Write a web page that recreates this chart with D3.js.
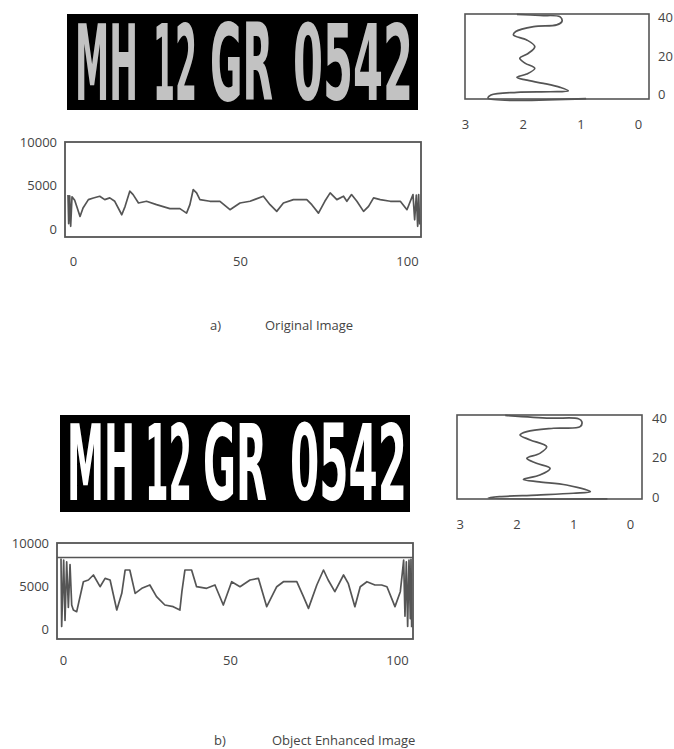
<!DOCTYPE html>
<html><head><meta charset="utf-8">
<script src="https://cdn.jsdelivr.net/npm/d3@7"></script>
<style>html,body{margin:0;padding:0;background:#fff;}svg{display:block;}</style>
</head><body>
<script>
// ---- data ----
const plateParts = ["MH", "12", "GR", "0542"];
const captions = [["a)", "Original Image"], ["b)", "Object Enhanced Image"]];
const colTicks = [0, 50, 100];
const valTicks = [0, 5000, 10000];
const rowTicks = [0, 20, 40];
const profTicks = [3, 2, 1, 0];

// a) original image - column profile
const origX = [-1.5,-1.3,-1.0,-0.7,-0.3,0.5,1.2,2.1,3.0,4.6,6.1,8.0,9.5,11.0,12.5,14.6,15.6,17.0,18.0,19.6,22.0,25.0,29.0,32.0,34.0,35.0,36.0,37.0,38.0,41.0,44.0,47.0,50.0,53.0,57.0,59.0,61.0,63.0,66.0,70.0,71.5,73.5,75.4,77.0,79.0,81.0,82.0,83.4,85.0,87.0,88.5,90.0,92.0,95.0,98.0,100.0,101.0,101.8,102.3,102.8,103.2,103.5,103.8];
const origVal = [3900,600,3800,300,3700,3300,2500,1430,2400,3370,3560,3760,3370,3570,3180,1630,2600,4340,3950,2980,3180,2790,2330,2330,1820,2790,4530,4150,3370,3180,3180,2210,2980,3180,3760,2790,2020,2980,3370,3370,2790,1820,3180,4150,3370,3760,3180,3950,3180,2020,2600,3570,3370,3180,3180,2210,3180,3950,1050,3900,300,3950,500];
// a) row profile
const origProfVal = [0.9,2.6,2.55,2.1,1.52,1.21,1.35,1.64,1.95,2.1,1.93,1.79,1.96,2.05,1.90,1.79,1.93,2.16,2.12,1.81,1.41,1.32,1.35,1.7,2.1];
const origProfRow = [-2.4,-2.2,-0.5,0.9,1.2,1.7,3.5,5.6,7.4,8.8,10.5,13.5,16.2,18.8,21.4,24.9,28.4,31.0,32.8,35.4,36.3,38.0,40.5,41.2,41.8];

// b) object enhanced image - column profile
const enhX = [-0.6,-0.4,0.2,0.6,1.1,1.6,2.1,2.6,3.1,4.1,6.1,7.6,9.1,11.1,12.6,14.1,16.1,17.6,18.6,20.0,21.6,23.6,26.0,28.0,30.5,33.0,35.0,35.6,36.5,38.5,40.0,43.0,45.5,48.0,50.5,53.0,56.0,58.5,61.0,64.0,66.0,70.0,72.0,73.5,76.0,78.0,79.4,81.4,84.0,85.4,87.4,89.0,91.0,93.4,95.4,97.0,99.4,101.0,101.6,102.0,102.4,102.8,103.2,103.6,104.0,104.2,104.4];
const enhVal = [8200,300,8000,1000,7800,2500,7500,2800,2210,2020,5500,5700,6280,4920,5890,5700,2210,4150,6860,6860,4150,4730,5120,3760,2790,2600,2210,4340,6860,6860,4920,4730,5120,2790,5500,4920,5700,5890,2600,4920,5500,5500,3760,2400,5120,6860,5700,4340,6280,5310,2600,4920,5500,5120,5120,4920,2600,4340,6500,8020,1500,7800,300,8000,1200,8100,200];
const enhRef = 8300;
// b) row profile
const enhProfVal = [0.4,2.5,2.3,1.64,1.0,0.70,1.12,1.6,1.88,1.59,1.41,1.65,1.82,1.59,1.47,1.76,1.94,1.82,1.35,0.88,0.85,0.91,1.41,2.2];
const enhProfRow = [-0.9,-0.5,0.2,1.0,1.9,2.7,6.1,7.7,8.9,11.1,14.5,17.1,19.6,22.1,25.5,28.9,31.4,33.1,34.8,35.6,38.1,39.6,39.9,41.3];

// ---- drawing ----
const W = 674, H = 749;
const svg = d3.select("body").append("svg").attr("width", W).attr("height", H);
const FONT = "'Open Sans', 'Liberation Sans', sans-serif";
const LINE = "#555";
const TICK_FS = 13;

function plate(cfg) {
  svg.append("rect").attr("x", cfg.x0).attr("y", cfg.y0)
    .attr("width", cfg.x1 - cfg.x0).attr("height", cfg.y1 - cfg.y0).attr("fill", "#000");
  plateParts.forEach((t, i) => {
    const [a, b] = cfg.spans[i];
    const g = svg.append("g");
    const txt = g.append("text").attr("x", 0).attr("y", 0)
      .attr("font-family", "'DejaVu Sans', sans-serif").attr("font-weight", "bold")
      .attr("font-size", 106).attr("fill", cfg.color).text(t);
    const bb = txt.node().getBBox();
    const sx = (b - a) / bb.width;
    g.attr("transform", `translate(${a - bb.x * sx},${cfg.base}) scale(${sx},1)`);
  });
}

function colChart(cfg) {
  const x = d3.scaleLinear().domain(cfg.xd).range([cfg.x0, cfg.x1]);
  const y = d3.scaleLinear().domain(cfg.yd).range([cfg.y1, cfg.y0]);
  const g = svg.append("g");
  g.append("rect").attr("x", cfg.x0).attr("y", cfg.y0).attr("width", cfg.x1 - cfg.x0)
    .attr("height", cfg.y1 - cfg.y0).attr("fill", "none").attr("stroke", "#555").attr("stroke-width", 1.8);
  if (cfg.ref != null) {
    g.append("line").attr("x1", cfg.x0).attr("x2", cfg.x1).attr("y1", y(cfg.ref)).attr("y2", y(cfg.ref))
      .attr("stroke", "#555").attr("stroke-width", 1.5);
  }
  const pts = cfg.xs.map((d, i) => [d, cfg.vs[i]]);
  g.append("path").datum(pts)
    .attr("d", d3.line().x(d => x(d[0])).y(d => y(d[1])))
    .attr("fill", "none").attr("stroke", LINE).attr("stroke-width", 1.7).attr("stroke-linejoin", "round");
  const ya = d3.axisLeft(y).tickValues(valTicks).tickSize(0).tickPadding(0).tickFormat(d3.format("d"));
  const ga = g.append("g").attr("transform", `translate(${cfg.yLabX},0)`).call(ya);
  ga.select(".domain").remove();
  ga.selectAll("text").attr("font-family", FONT).attr("font-size", TICK_FS).attr("fill", "#444");
  const xa = d3.axisBottom(x).tickValues(colTicks).tickSize(0).tickPadding(0).tickFormat(d3.format("d"));
  const gx = g.append("g").attr("transform", `translate(0,${cfg.xLabY})`).call(xa);
  gx.select(".domain").remove();
  gx.selectAll("text").attr("font-family", FONT).attr("font-size", TICK_FS).attr("fill", "#444");
}

function rowChart(cfg) {
  const x = d3.scaleLinear().domain(cfg.xd).range([cfg.x0, cfg.x1]);
  const y = d3.scaleLinear().domain(cfg.yd).range([cfg.y1, cfg.y0]);
  const g = svg.append("g");
  g.append("rect").attr("x", cfg.x0).attr("y", cfg.y0).attr("width", cfg.x1 - cfg.x0)
    .attr("height", cfg.y1 - cfg.y0).attr("fill", "none").attr("stroke", "#555").attr("stroke-width", 1.6);
  const pts = cfg.vs.map((d, i) => [d, cfg.rs[i]]);
  g.append("path").datum(pts)
    .attr("d", d3.line().x(d => x(d[0])).y(d => y(d[1])).curve(d3.curveCatmullRom))
    .attr("fill", "none").attr("stroke", LINE).attr("stroke-width", 1.7);
  const ya = d3.axisRight(y).tickValues(rowTicks).tickSize(0).tickPadding(0).tickFormat(d3.format("d"));
  const ga = g.append("g").attr("transform", `translate(${cfg.yLabX},0)`).call(ya);
  ga.select(".domain").remove();
  ga.selectAll("text").attr("font-family", FONT).attr("font-size", TICK_FS).attr("fill", "#444");
  const xa = d3.axisBottom(x).tickValues(profTicks).tickSize(0).tickPadding(0).tickFormat(d3.format("d"));
  const gx = g.append("g").attr("transform", `translate(0,${cfg.xLabY})`).call(xa);
  gx.select(".domain").remove();
  gx.selectAll("text").attr("font-family", FONT).attr("font-size", TICK_FS).attr("fill", "#444");
}

function caption(i, x1, x2, y) {
  svg.append("text").attr("x", x1).attr("y", y).attr("font-family", FONT).attr("font-size", 13)
    .attr("fill", "#444").text(captions[i][0]);
  svg.append("text").attr("x", x2).attr("y", y).attr("font-family", FONT).attr("font-size", 13)
    .attr("fill", "#444").text(captions[i][1]);
}

// a)
plate({x0: 67, x1: 418, y0: 14, y1: 110, base: 100, color: "#c2c2c2",
  spans: [[75, 138], [153, 197], [210, 273], [293, 413]]});
colChart({x0: 65, x1: 421, y0: 142, y1: 237, xd: [-2.4, 104.2], yd: [-930, 10000],
  xs: origX, vs: origVal, yLabX: 57, xLabY: 257});
rowChart({x0: 465, x1: 649, y0: 14, y1: 99, xd: [3, -0.19], yd: [-2.6, 42],
  vs: origProfVal, rs: origProfRow, yLabX: 658, xLabY: 120});
caption(0, 210, 265, 330);

// b)
plate({x0: 60, x1: 410, y0: 415, y1: 512, base: 500, color: "#ffffff",
  spans: [[67, 135], [145, 192], [203, 267], [290, 407]]});
colChart({x0: 57, x1: 413, y0: 543, y1: 639, xd: [-1.8, 104.8], yd: [-1160, 10000],
  xs: enhX, vs: enhVal, ref: enhRef, yLabX: 49, xLabY: 656});
rowChart({x0: 457, x1: 642, y0: 415, y1: 499, xd: [3.05, -0.21], yd: [-1.0, 41.5],
  vs: enhProfVal, rs: enhProfRow, yLabX: 652, xLabY: 520});
caption(1, 214, 272, 745);
</script>
</body></html>
